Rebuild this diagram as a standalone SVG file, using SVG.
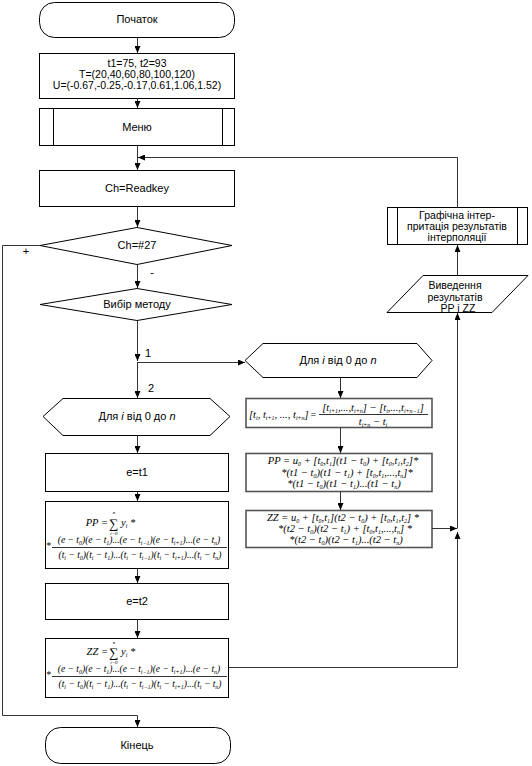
<svg xmlns="http://www.w3.org/2000/svg" width="532" height="766" viewBox="0 0 532 766">
<defs>
<marker id="ar" markerWidth="7" markerHeight="6" refX="7" refY="3" orient="auto" markerUnits="userSpaceOnUse">
<path d="M0,0 L7,3 L0,6 z" fill="#000"/>
</marker>
<style>
.n{fill:#fff;stroke:#000;stroke-width:1}
.fb{fill:#fff;stroke:#555;stroke-width:1.6}
.c{fill:none;stroke:#333;stroke-width:1}
.a{marker-end:url(#ar)}
.t{font-family:"Liberation Sans",Arial,sans-serif;font-size:11px;fill:#000;text-anchor:middle}
.t2{font-family:"Liberation Sans",Arial,sans-serif;font-size:10.5px;fill:#000;text-anchor:middle}
.f{font-family:"Liberation Serif","Times New Roman",serif;font-style:italic;font-size:9.5px;fill:#000}
.r{font-size:10.5px}
.s{font-size:6px}
.m{text-anchor:middle}
.e{text-anchor:end}
.sg{font-family:"Liberation Serif",serif;font-size:13px;text-anchor:middle}
.lim{font-family:"Liberation Serif",serif;font-style:italic;font-size:5px;text-anchor:middle}
</style>
</defs>

<g id="start">
<rect class="n" x="39.5" y="2.5" width="195" height="35" rx="15"/>
<text class="t" x="137" y="23">Початок</text>
</g>

<g id="init">
<rect class="n" x="39.5" y="53.5" width="195" height="45"/>
<text class="t2" x="137" y="67">t1=75, t2=93</text>
<text class="t2" x="137" y="78">T=(20,40,60,80,100,120)</text>
<text class="t2" x="137" y="89">U=(-0.67,-0.25,-0.17,0.61,1.06,1.52)</text>
</g>

<g id="menu">
<rect class="n" x="39.5" y="108.5" width="195" height="37"/>
<line class="n" x1="53.5" y1="108.5" x2="53.5" y2="145.5"/>
<line class="n" x1="222.5" y1="108.5" x2="222.5" y2="145.5"/>
<text class="t" x="137" y="131">Меню</text>
</g>

<g id="readkey">
<rect class="n" x="39.5" y="170.5" width="195" height="36"/>
<text class="t" x="137" y="192">Ch=Readkey</text>
</g>

<g id="esc">
<polygon class="n" points="40,245.5 137,227.5 232,245.5 137,264.5"/>
<text class="t" x="137" y="249">Ch=#27</text>
</g>

<g id="method">
<polygon class="n" points="40,304.5 137,288.5 232,304.5 137,320.5"/>
<text class="t" x="137" y="308">Вибір методу</text>
</g>

<g id="loop2">
<polygon class="n" points="43,416.5 63,398.5 210,398.5 230,416.5 210,435.5 63,435.5"/>
<text class="t" x="137" y="420">Для <tspan font-style="italic">i</tspan> від 0 до <tspan font-style="italic">n</tspan></text>
</g>

<g id="et1">
<rect class="n" x="45.5" y="453.5" width="183" height="38"/>
<text class="t" x="137" y="476">e=t1</text>
</g>

<g id="ppL">
<rect class="n" x="45.5" y="501.5" width="183" height="67"/>
<text class="f e r" x="108" y="526">PP =</text>
<text class="sg" x="114" y="528">∑</text>
<text class="lim" x="114" y="514">n</text>
<text class="lim" x="114" y="535">i=0</text>
<text class="f r" x="121" y="526">y<tspan class="s" dy="2">i</tspan><tspan dy="-2"> *</tspan></text>
<text class="f" x="46" y="549">*</text>
<text class="f m" x="139" y="543">(e − t<tspan class="s" dy="2">0</tspan><tspan dy="-2">)(e − t</tspan><tspan class="s" dy="2">1</tspan><tspan dy="-2">)...(e − t</tspan><tspan class="s" dy="2">i−1</tspan><tspan dy="-2">)(e − t</tspan><tspan class="s" dy="2">i+1</tspan><tspan dy="-2">)...(e − t</tspan><tspan class="s" dy="2">n</tspan><tspan dy="-2">)</tspan></text>
<line x1="52" y1="547.5" x2="227" y2="547.5" stroke="#000" stroke-width="0.8"/>
<text class="f m" x="140" y="558">(t<tspan class="s" dy="2">i</tspan><tspan dy="-2"> − t</tspan><tspan class="s" dy="2">0</tspan><tspan dy="-2">)(t</tspan><tspan class="s" dy="2">i</tspan><tspan dy="-2"> − t</tspan><tspan class="s" dy="2">1</tspan><tspan dy="-2">)...(t</tspan><tspan class="s" dy="2">i</tspan><tspan dy="-2"> − t</tspan><tspan class="s" dy="2">i−1</tspan><tspan dy="-2">)(t</tspan><tspan class="s" dy="2">i</tspan><tspan dy="-2"> − t</tspan><tspan class="s" dy="2">i+1</tspan><tspan dy="-2">)...(t</tspan><tspan class="s" dy="2">i</tspan><tspan dy="-2"> − t</tspan><tspan class="s" dy="2">n</tspan><tspan dy="-2">)</tspan></text>
</g>

<g id="et2">
<rect class="n" x="45.5" y="583.5" width="183" height="36"/>
<text class="t" x="137" y="605">e=t2</text>
</g>

<g id="zzL">
<rect class="n" x="45.5" y="638.5" width="183" height="59"/>
<text class="f e r" x="108" y="655">ZZ =</text>
<text class="sg" x="114" y="657">∑</text>
<text class="lim" x="114" y="644">n</text>
<text class="lim" x="114" y="664">i=0</text>
<text class="f r" x="121" y="655">y<tspan class="s" dy="2">i</tspan><tspan dy="-2"> *</tspan></text>
<text class="f" x="46" y="678">*</text>
<text class="f m" x="139" y="672">(e − t<tspan class="s" dy="2">0</tspan><tspan dy="-2">)(e − t</tspan><tspan class="s" dy="2">1</tspan><tspan dy="-2">)...(e − t</tspan><tspan class="s" dy="2">i−1</tspan><tspan dy="-2">)(e − t</tspan><tspan class="s" dy="2">i+1</tspan><tspan dy="-2">)...(e − t</tspan><tspan class="s" dy="2">n</tspan><tspan dy="-2">)</tspan></text>
<line x1="52" y1="676.5" x2="227" y2="676.5" stroke="#000" stroke-width="0.8"/>
<text class="f m" x="140" y="687">(t<tspan class="s" dy="2">i</tspan><tspan dy="-2"> − t</tspan><tspan class="s" dy="2">0</tspan><tspan dy="-2">)(t</tspan><tspan class="s" dy="2">i</tspan><tspan dy="-2"> − t</tspan><tspan class="s" dy="2">1</tspan><tspan dy="-2">)...(t</tspan><tspan class="s" dy="2">i</tspan><tspan dy="-2"> − t</tspan><tspan class="s" dy="2">i−1</tspan><tspan dy="-2">)(t</tspan><tspan class="s" dy="2">i</tspan><tspan dy="-2"> − t</tspan><tspan class="s" dy="2">i+1</tspan><tspan dy="-2">)...(t</tspan><tspan class="s" dy="2">i</tspan><tspan dy="-2"> − t</tspan><tspan class="s" dy="2">n</tspan><tspan dy="-2">)</tspan></text>
</g>

<g id="end">
<rect class="n" x="45.5" y="727.5" width="185" height="36" rx="15"/>
<text class="t" x="137" y="749">Кінець</text>
</g>

<g id="loop1">
<polygon class="n" points="245,360.5 263,343.5 417,343.5 432,360.5 417,377.5 263,377.5"/>
<text class="t" x="338" y="364">Для <tspan font-style="italic">i</tspan> від 0 до <tspan font-style="italic">n</tspan></text>
</g>

<g id="divdiff">
<rect class="fb" x="246" y="398.5" width="186" height="29"/>
<text class="f r" x="249" y="418">[t<tspan class="s" dy="2">i</tspan><tspan dy="-2">, t</tspan><tspan class="s" dy="2">i+1</tspan><tspan dy="-2">, ..., t</tspan><tspan class="s" dy="2">i+n</tspan><tspan dy="-2">]</tspan></text>
<text class="f" x="310" y="418" font-size="12">=</text>
<text class="f m r" x="373" y="411">[t<tspan class="s" dy="2">i+1</tspan><tspan dy="-2">,...,t</tspan><tspan class="s" dy="2">i+n</tspan><tspan dy="-2">] − [t</tspan><tspan class="s" dy="2">i</tspan><tspan dy="-2">,...,t</tspan><tspan class="s" dy="2">i+n−1</tspan><tspan dy="-2">]</tspan></text>
<line x1="319" y1="414.5" x2="428" y2="414.5" stroke="#000" stroke-width="0.8"/>
<text class="f m r" x="373" y="425">t<tspan class="s" dy="2">i+n</tspan><tspan dy="-2"> − t</tspan><tspan class="s" dy="2">i</tspan></text>
</g>

<g id="ppR">
<rect class="fb" x="246" y="453.5" width="186" height="38"/>
<text class="f m r" x="343" y="464">PP = u<tspan class="s" dy="2">0</tspan><tspan dy="-2"> + [t</tspan><tspan class="s" dy="2">0</tspan><tspan dy="-2">,t</tspan><tspan class="s" dy="2">1</tspan><tspan dy="-2">](t1 − t</tspan><tspan class="s" dy="2">0</tspan><tspan dy="-2">) + [t</tspan><tspan class="s" dy="2">0</tspan><tspan dy="-2">,t</tspan><tspan class="s" dy="2">1</tspan><tspan dy="-2">,t</tspan><tspan class="s" dy="2">2</tspan><tspan dy="-2">]*</tspan></text>
<text class="f m r" x="347" y="476">*(t1 − t<tspan class="s" dy="2">0</tspan><tspan dy="-2">)(t1 − t</tspan><tspan class="s" dy="2">1</tspan><tspan dy="-2">) + [t</tspan><tspan class="s" dy="2">0</tspan><tspan dy="-2">,t</tspan><tspan class="s" dy="2">1</tspan><tspan dy="-2">,...,t</tspan><tspan class="s" dy="2">n</tspan><tspan dy="-2">]*</tspan></text>
<text class="f m r" x="344" y="487">*(t1 − t<tspan class="s" dy="2">0</tspan><tspan dy="-2">)(t1 − t</tspan><tspan class="s" dy="2">1</tspan><tspan dy="-2">)...(t1 − t</tspan><tspan class="s" dy="2">n</tspan><tspan dy="-2">)</tspan></text>
</g>

<g id="zzR">
<rect class="fb" x="246" y="510.5" width="186" height="37"/>
<text class="f m r" x="343" y="521">ZZ = u<tspan class="s" dy="2">0</tspan><tspan dy="-2"> + [t</tspan><tspan class="s" dy="2">0</tspan><tspan dy="-2">,t</tspan><tspan class="s" dy="2">1</tspan><tspan dy="-2">](t2 − t</tspan><tspan class="s" dy="2">0</tspan><tspan dy="-2">) + [t</tspan><tspan class="s" dy="2">0</tspan><tspan dy="-2">,t</tspan><tspan class="s" dy="2">1</tspan><tspan dy="-2">,t</tspan><tspan class="s" dy="2">2</tspan><tspan dy="-2">] *</tspan></text>
<text class="f m r" x="345" y="532">*(t2 − t<tspan class="s" dy="2">0</tspan><tspan dy="-2">)(t2 − t</tspan><tspan class="s" dy="2">1</tspan><tspan dy="-2">) + [t</tspan><tspan class="s" dy="2">0</tspan><tspan dy="-2">,t</tspan><tspan class="s" dy="2">1</tspan><tspan dy="-2">,...,t</tspan><tspan class="s" dy="2">n</tspan><tspan dy="-2">] *</tspan></text>
<text class="f m r" x="346" y="543">*(t2 − t<tspan class="s" dy="2">0</tspan><tspan dy="-2">)(t2 − t</tspan><tspan class="s" dy="2">1</tspan><tspan dy="-2">)...(t2 − t</tspan><tspan class="s" dy="2">n</tspan><tspan dy="-2">)</tspan></text>
</g>

<g id="output">
<polygon class="n" points="423,275.5 528,275.5 492,312.5 387,312.5"/>
<text class="t2" x="455" y="289">Виведення</text>
<text class="t2" x="455" y="301">результатів</text>
<text class="t2" x="458" y="312">PP і ZZ</text>
</g>

<g id="graph">
<rect class="n" x="387.5" y="207.5" width="140" height="37"/>
<line class="n" x1="397.5" y1="207.5" x2="397.5" y2="244.5"/>
<line class="n" x1="517.5" y1="207.5" x2="517.5" y2="244.5"/>
<text class="t2" x="457" y="219">Графічна інтер-</text>
<text class="t2" x="457" y="230">притація результатів</text>
<text class="t2" x="457" y="241">інтерполяції</text>
</g>

<g id="connectors">
<path class="c a" d="M137.5,37.5 V53"/>
<path class="c a" d="M137.5,98.5 V108"/>
<path class="c a" d="M137.5,145.5 V170"/>
<path class="c a" d="M457.5,207.5 V157.5 H138"/>
<path class="c a" d="M137.5,206.5 V227"/>
<path class="c a" d="M137.5,264.5 V288"/>
<path class="c a" d="M137.5,320.5 V361"/>
<path class="c a" d="M137.5,362 V398"/>
<path class="c a" d="M137.5,362.5 H245"/>
<path class="c a" d="M340.5,377.5 V398"/>
<path class="c a" d="M340.5,427.5 V453"/>
<path class="c a" d="M340.5,491.5 V510"/>
<path class="c a" d="M432,528.5 H457"/>
<path class="c a" d="M228.5,667.5 H457.5 V532"/>
<path class="c a" d="M457.5,528.5 V313"/>
<path class="c a" d="M457.5,275.5 V245"/>
<path class="c a" d="M137.5,435.5 V453"/>
<path class="c a" d="M137.5,491.5 V501"/>
<path class="c a" d="M137.5,568.5 V583"/>
<path class="c a" d="M137.5,619.5 V638"/>
<path class="c a" d="M40,245.5 H2.5 V715.5 H137.5 V727"/>
<text class="t" x="26" y="255" font-size="10">+</text>
<text class="t" x="152" y="276">-</text>
<text class="t" x="148" y="357">1</text>
<text class="t" x="151" y="392">2</text>
</g>
</svg>
